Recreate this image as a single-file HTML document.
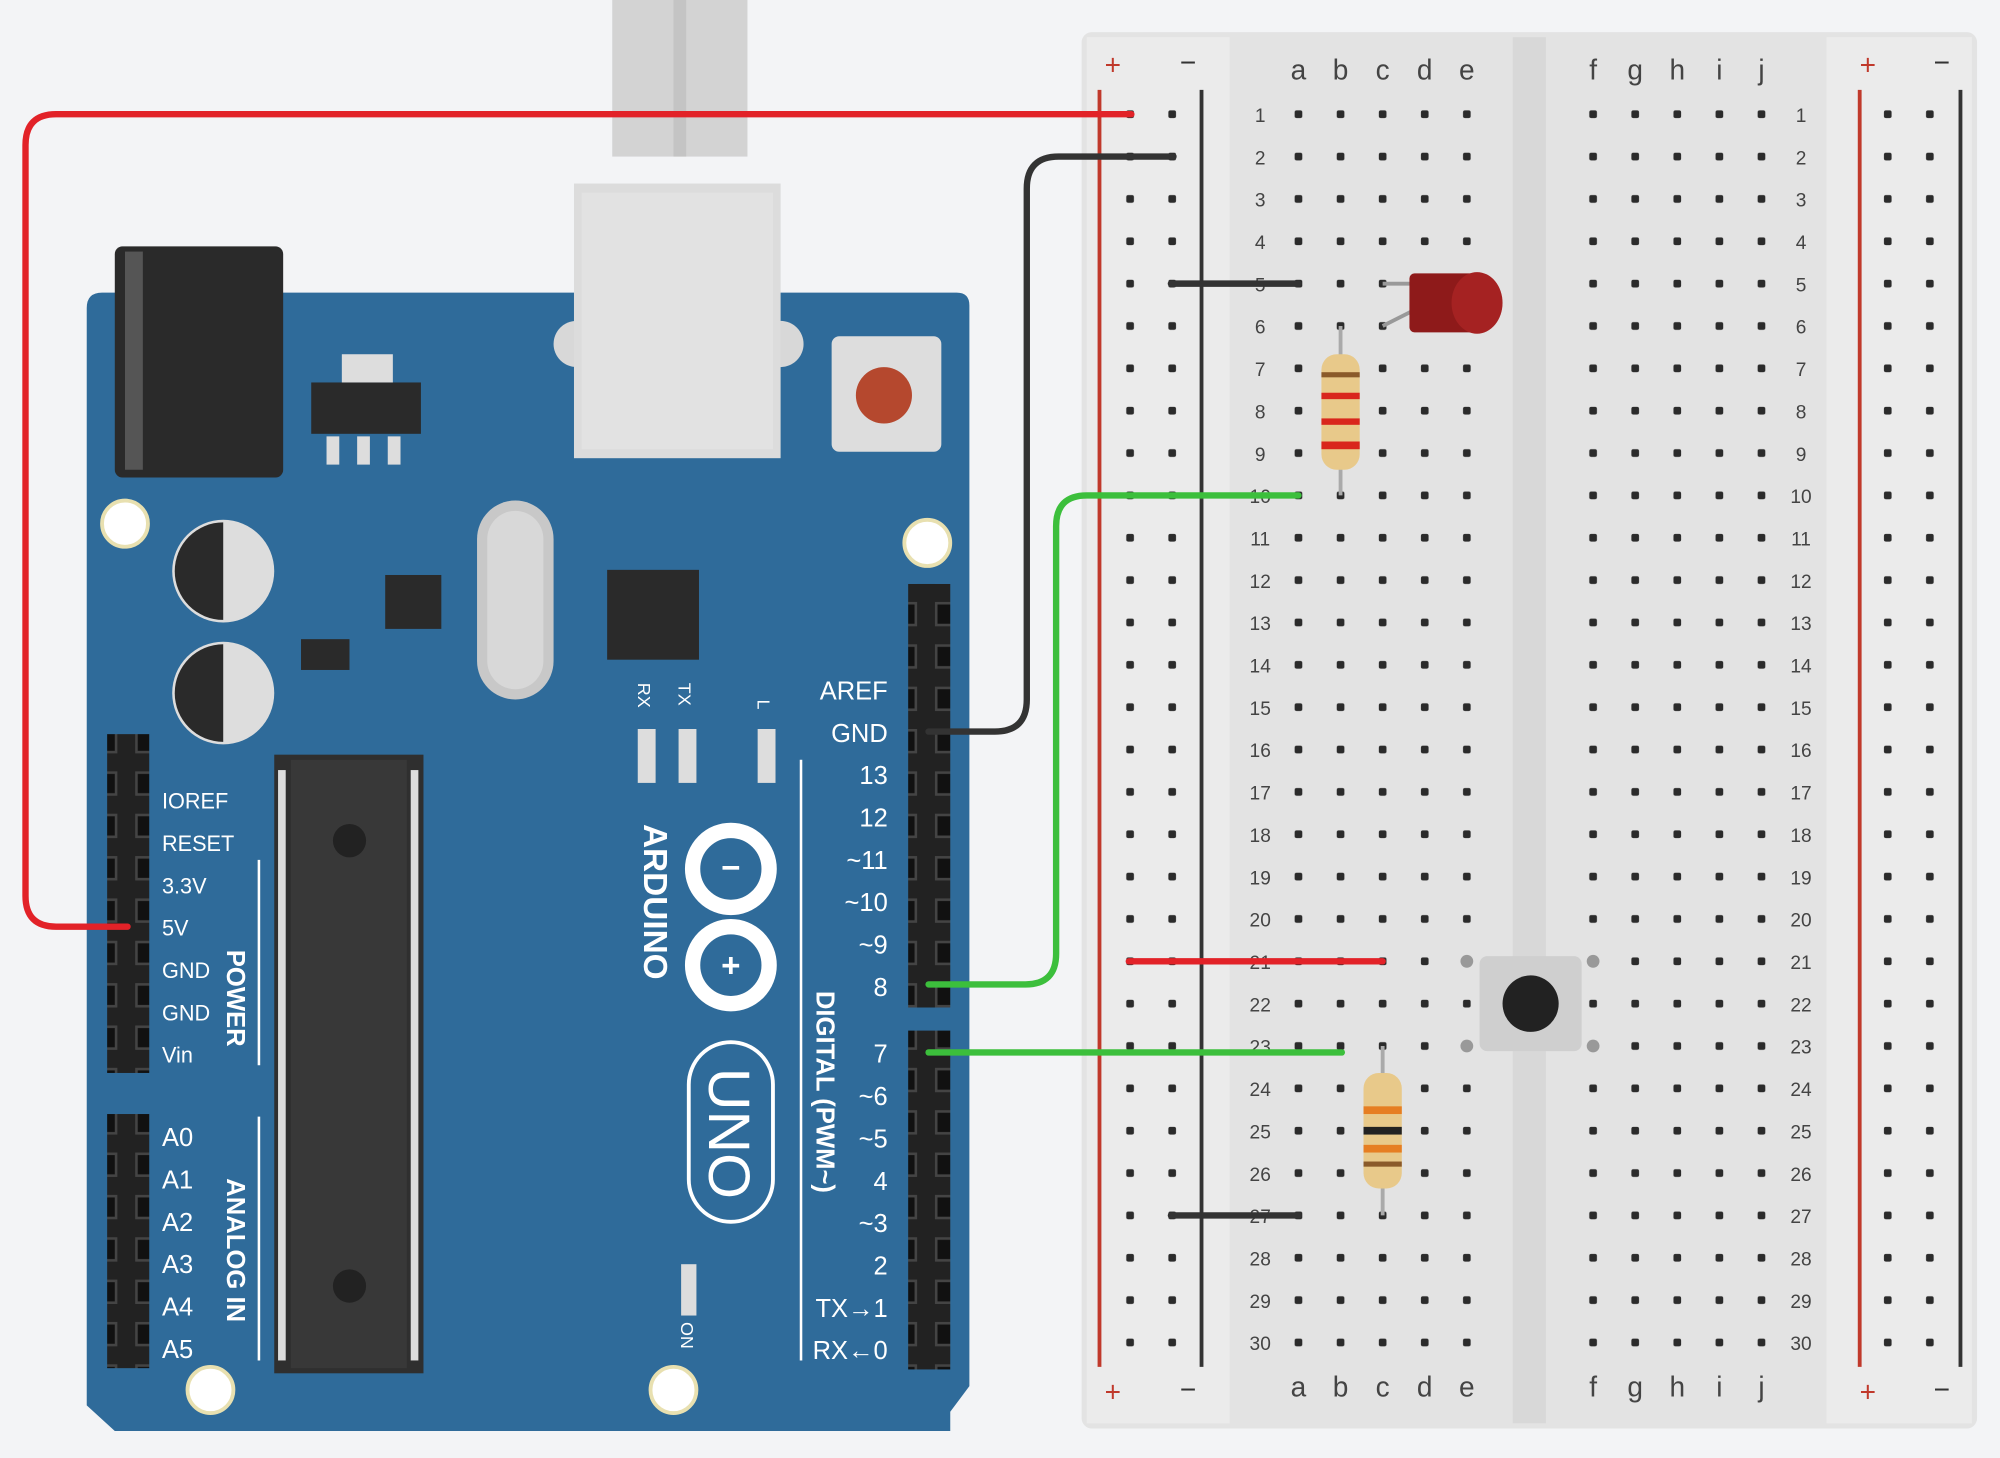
<!DOCTYPE html>
<html><head><meta charset="utf-8"><style>
html,body{margin:0;padding:0;background:#f3f4f6;}
svg{display:block;}
text{font-family:"Liberation Sans",sans-serif;}
</style></head><body>
<svg width="2000" height="1458" viewBox="0 0 1568 1136" preserveAspectRatio="none" xmlns="http://www.w3.org/2000/svg">
<defs>
<pattern id="rh" x="11.5" y="6.5" width="33" height="33" patternUnits="userSpaceOnUse"><rect x="13.5" y="13.5" width="6" height="6" rx="1.5" fill="#2b2b2b"/></pattern>
<pattern id="hdr" x="0" y="0" width="33" height="33" patternUnits="userSpaceOnUse"><rect width="33" height="33" fill="#222"/><rect x="8" y="8" width="17" height="17" fill="#111" stroke="#444" stroke-width="2"/></pattern>
</defs>
<rect width="1568" height="1136" fill="#f3f4f6"/>
<rect x="480" y="0" width="106" height="122" fill="#d3d3d3"/>
<rect x="528" y="0" width="10" height="122" fill="#c4c4c4"/>
<rect x="848" y="25" width="702" height="1088" rx="8" fill="#e3e3e3"/>
<rect x="852" y="29" width="112" height="1080" fill="#ebebeb"/>
<rect x="1432" y="29" width="114" height="1080" fill="#ebebeb"/>
<rect x="1186" y="29" width="26" height="1080" fill="#d8d8d8"/>
<line x1="862" y1="70" x2="862" y2="1065" stroke="#c0392b" stroke-width="3"/>
<line x1="942" y1="70" x2="942" y2="1065" stroke="#333" stroke-width="3"/>
<line x1="1458" y1="70" x2="1458" y2="1065" stroke="#c0392b" stroke-width="3"/>
<line x1="1537" y1="70" x2="1537" y2="1065" stroke="#333" stroke-width="3"/>
<g font-size="22" fill="#c0392b"><text x="866" y="58">+</text><text x="1458" y="58">+</text><text x="866" y="1092">+</text><text x="1458" y="1092">+</text></g>
<g font-size="22" fill="#333"><text x="925" y="56">−</text><text x="1516" y="56">−</text><text x="925" y="1090">−</text><text x="1516" y="1090">−</text></g>
<rect x="869.5" y="72.5" width="66" height="990" fill="url(#rh)"/>
<rect x="1001.5" y="72.5" width="165" height="990" fill="url(#rh)"/>
<rect x="1232.5" y="72.5" width="165" height="990" fill="url(#rh)"/>
<rect x="1464.5" y="72.5" width="66" height="990" fill="url(#rh)"/>
<g font-size="22" fill="#444" text-anchor="middle">
<text x="1018" y="62">a</text><text x="1051" y="62">b</text><text x="1084" y="62">c</text><text x="1117" y="62">d</text><text x="1150" y="62">e</text>
<text x="1249" y="62">f</text><text x="1282" y="62">g</text><text x="1315" y="62">h</text><text x="1348" y="62">i</text><text x="1381" y="62">j</text>
<text x="1018" y="1088">a</text><text x="1051" y="1088">b</text><text x="1084" y="1088">c</text><text x="1117" y="1088">d</text><text x="1150" y="1088">e</text>
<text x="1249" y="1088">f</text><text x="1282" y="1088">g</text><text x="1315" y="1088">h</text><text x="1348" y="1088">i</text><text x="1381" y="1088">j</text>
</g>
<g font-size="15" fill="#444" text-anchor="middle" id="nums">
<text x="988" y="95">1</text><text x="988" y="128">2</text><text x="988" y="161">3</text><text x="988" y="194">4</text><text x="988" y="227">5</text><text x="988" y="260">6</text><text x="988" y="293">7</text><text x="988" y="326">8</text><text x="988" y="359">9</text><text x="988" y="392">10</text><text x="988" y="425">11</text><text x="988" y="458">12</text><text x="988" y="491">13</text><text x="988" y="524">14</text><text x="988" y="557">15</text><text x="988" y="590">16</text><text x="988" y="623">17</text><text x="988" y="656">18</text><text x="988" y="689">19</text><text x="988" y="722">20</text><text x="988" y="755">21</text><text x="988" y="788">22</text><text x="988" y="821">23</text><text x="988" y="854">24</text><text x="988" y="887">25</text><text x="988" y="920">26</text><text x="988" y="953">27</text><text x="988" y="986">28</text><text x="988" y="1019">29</text><text x="988" y="1052">30</text>
</g>
<use href="#nums" x="424"/>
<path d="M80,228 H750 Q760,228 760,238 V1080 L745,1100 V1115 H90 L68,1095 V240 Q68,228 80,228 Z" fill="#2f6b9a"/>
<rect x="90" y="192" width="132" height="180" rx="6" fill="#2a2a2a"/>
<rect x="98" y="196" width="14" height="170" fill="#555"/>
<rect x="244" y="298" width="86" height="40" fill="#2a2a2a"/><rect x="268" y="276" width="40" height="22" fill="#ddd"/>
<rect x="256" y="340" width="10" height="22" fill="#ddd"/><rect x="280" y="340" width="10" height="22" fill="#ddd"/><rect x="304" y="340" width="10" height="22" fill="#ddd"/>
<circle cx="175" cy="445" r="40" fill="#ddd"/><path d="M175,407 A38,38 0 0,0 175,483 Z" fill="#2a2a2a"/>
<circle cx="175" cy="540" r="40" fill="#ddd"/><path d="M175,502 A38,38 0 0,0 175,578 Z" fill="#2a2a2a"/>
<rect x="374" y="390" width="60" height="155" rx="30" fill="#c8c8c8"/><rect x="382" y="398" width="44" height="139" rx="22" fill="#d8d8d8"/>
<rect x="302" y="448" width="44" height="42" fill="#2a2a2a"/>
<rect x="476" y="444" width="72" height="70" fill="#2a2a2a"/>
<rect x="236" y="498" width="38" height="24" fill="#2a2a2a"/>
<circle cx="98" cy="408" r="18" fill="#fff" stroke="#e8e0b0" stroke-width="3"/>
<circle cx="727" cy="423" r="18" fill="#fff" stroke="#e8e0b0" stroke-width="3"/>
<circle cx="165" cy="1083" r="18" fill="#fff" stroke="#e8e0b0" stroke-width="3"/>
<circle cx="528" cy="1083" r="18" fill="#fff" stroke="#e8e0b0" stroke-width="3"/>
<circle cx="452" cy="268" r="18" fill="#d8d8d8"/><circle cx="612" cy="268" r="18" fill="#d8d8d8"/>
<rect x="450" y="143" width="162" height="214" fill="#dcdcdc"/><rect x="456" y="150" width="150" height="200" fill="#e2e2e2"/>
<rect x="652" y="262" width="86" height="90" rx="6" fill="#ddd"/><circle cx="693" cy="308" r="22" fill="#b5482e"/>
<rect x="712" y="455" width="33" height="330" fill="url(#hdr)"/>
<rect x="712" y="803" width="33" height="264" fill="url(#hdr)"/>
<rect x="84" y="572" width="33" height="264" fill="url(#hdr)"/>
<rect x="84" y="868" width="33" height="198" fill="url(#hdr)"/>
<rect x="215" y="588" width="117" height="482" fill="#2f2f2f"/>
<rect x="228" y="592" width="91" height="474" fill="#383838"/>
<circle cx="274" cy="655" r="13" fill="#222"/><circle cx="274" cy="1002" r="13" fill="#222"/>
<g fill="#ddd"><rect x="218" y="600" width="6" height="460"/><rect x="322" y="600" width="6" height="460"/></g>
<rect x="500" y="568" width="14" height="42" fill="#ddd"/><rect x="532" y="568" width="14" height="42" fill="#ddd"/><rect x="594" y="568" width="14" height="42" fill="#ddd"/>
<rect x="534" y="985" width="12" height="40" fill="#ddd"/>
<g fill="#fff" font-size="20" text-anchor="end">
<text x="696" y="545">AREF</text><text x="696" y="578">GND</text><text x="696" y="611">13</text><text x="696" y="644">12</text><text x="696" y="677">~11</text><text x="696" y="710">~10</text><text x="696" y="743">~9</text><text x="696" y="776">8</text>
<text x="696" y="828">7</text><text x="696" y="861">~6</text><text x="696" y="894">~5</text><text x="696" y="927">4</text><text x="696" y="960">~3</text><text x="696" y="993">2</text><text x="696" y="1026">TX→1</text><text x="696" y="1059">RX←0</text>
</g>
<g fill="#fff" font-size="17"><text x="127" y="630">IOREF</text><text x="127" y="663">RESET</text><text x="127" y="696">3.3V</text><text x="127" y="729">5V</text><text x="127" y="762">GND</text><text x="127" y="795">GND</text><text x="127" y="828">Vin</text></g>
<g fill="#fff" font-size="20"><text x="127" y="893">A0</text><text x="127" y="926">A1</text><text x="127" y="959">A2</text><text x="127" y="992">A3</text><text x="127" y="1025">A4</text><text x="127" y="1058">A5</text></g>
<line x1="203" y1="670" x2="203" y2="830" stroke="#fff" stroke-width="2"/><line x1="203" y1="870" x2="203" y2="1060" stroke="#fff" stroke-width="2"/>
<line x1="628" y1="592" x2="628" y2="1060" stroke="#fff" stroke-width="2"/>
<g fill="#fff" font-size="20" font-weight="bold">
<text transform="translate(178,740) rotate(90)">POWER</text>
<text transform="translate(178,918) rotate(90)">ANALOG IN</text>
<text transform="translate(640,772) rotate(90)">DIGITAL (PWM~)</text>
<text transform="translate(505,642) rotate(90)" font-size="26">ARDUINO</text>
</g>
<g fill="#fff" font-size="14"><text transform="translate(500,532) rotate(90)">RX</text><text transform="translate(532,532) rotate(90)">TX</text><text transform="translate(594,545) rotate(90)">L</text><text transform="translate(534,1030) rotate(90)">ON</text></g>
<g fill="none" stroke="#fff" stroke-width="12"><circle cx="573" cy="677" r="30"/><circle cx="573" cy="752" r="30"/></g>
<text x="573" y="685" fill="#fff" font-size="26" font-weight="bold" text-anchor="middle">−</text>
<text x="573" y="761" fill="#fff" font-size="26" font-weight="bold" text-anchor="middle">+</text>
<rect x="540" y="812" width="66" height="140" rx="33" fill="none" stroke="#fff" stroke-width="3"/>
<text transform="translate(556,832) rotate(90)" fill="#fff" font-size="46">UNO</text>
<g fill="none" stroke-width="5" stroke-linecap="round">
<path d="M887,89 H44 Q20,89 20,113 V698 Q20,722 44,722 H100" stroke="#e22228"/>
<path d="M920,122 H830 Q805,122 805,147 V545 Q805,570 780,570 H728" stroke="#333"/>
<path d="M1018,386 H852 Q828,386 828,410 V743 Q828,767 804,767 H728" stroke="#3cbf3c"/>
<path d="M728,820 H1052" stroke="#3cbf3c"/>
<path d="M918,221 H1018" stroke="#333"/>
<path d="M885,749 H1084" stroke="#e22228"/>
<path d="M918,947 H1018" stroke="#333"/>
</g>
<g stroke="#999" stroke-width="3" fill="none"><path d="M1084,221 H1110"/><path d="M1084,254 L1112,240"/></g>
<rect x="1105" y="213" width="55" height="46" rx="4" fill="#8e1a1a"/><ellipse cx="1158" cy="236" rx="20" ry="24" fill="#a52222"/>
<g stroke="#aaa" stroke-width="3"><line x1="1051" y1="254" x2="1051" y2="386"/><line x1="1084" y1="815" x2="1084" y2="947"/></g>
<rect x="1036" y="276" width="30" height="90" rx="12" fill="#e8c98a"/>
<g fill="#d9261c"><rect x="1036" y="306" width="30" height="5"/><rect x="1036" y="326" width="30" height="5"/><rect x="1036" y="344" width="30" height="6"/></g>
<rect x="1036" y="290" width="30" height="4" fill="#8a5a2a"/>
<rect x="1069" y="836" width="30" height="90" rx="12" fill="#e8c98a"/>
<g><rect x="1069" y="862" width="30" height="6" fill="#e67e22"/><rect x="1069" y="878" width="30" height="6" fill="#222"/><rect x="1069" y="892" width="30" height="6" fill="#e67e22"/><rect x="1069" y="905" width="30" height="4" fill="#8a5a2a"/></g>
<g fill="#999"><circle cx="1150" cy="749" r="5"/><circle cx="1249" cy="749" r="5"/><circle cx="1150" cy="815" r="5"/><circle cx="1249" cy="815" r="5"/></g>
<rect x="1160" y="745" width="80" height="74" rx="6" fill="#cfcfcf"/>
<circle cx="1200" cy="782" r="22" fill="#222"/>
</svg>
</body></html>
